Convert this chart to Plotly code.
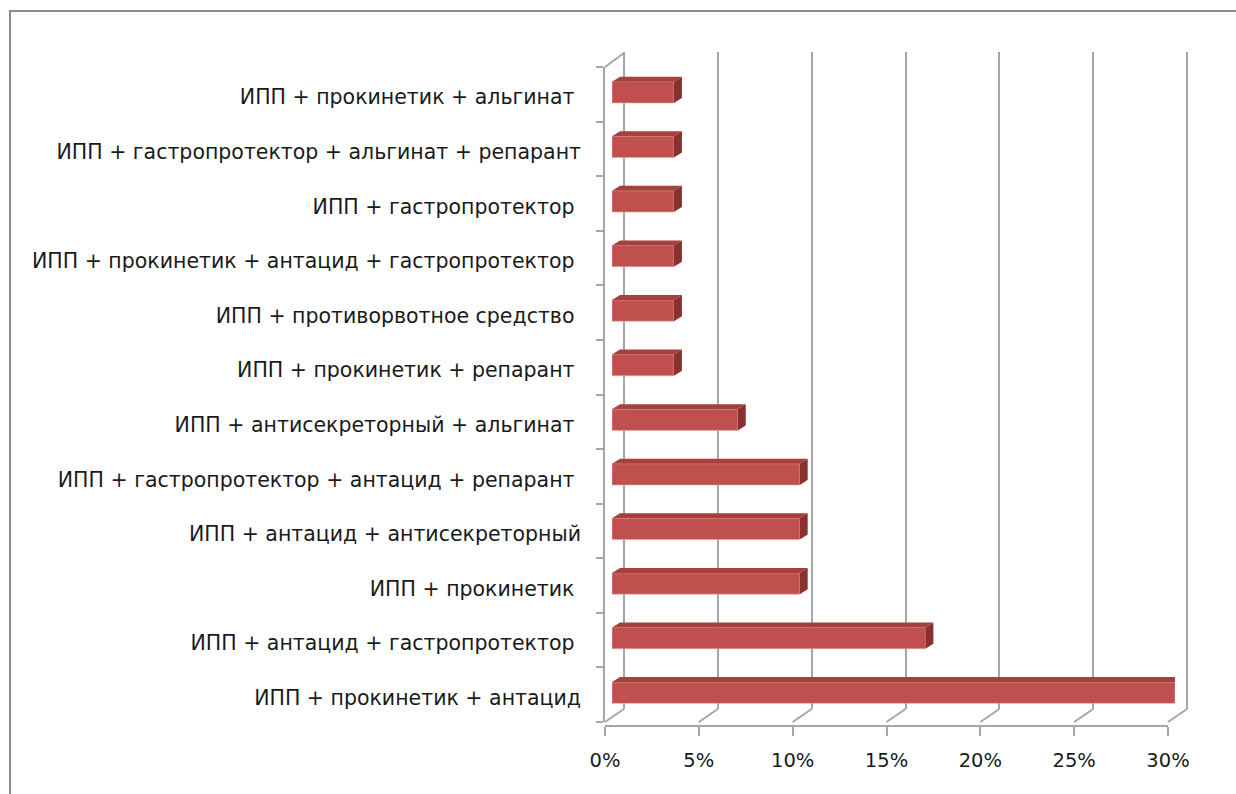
import plotly.graph_objects as go

# Treatment combinations, listed bottom to top
categories = [
    "ИПП + прокинетик + антацид",
    "ИПП + антацид + гастропротектор\u00a0",
    "ИПП + прокинетик\u00a0",
    "ИПП + антацид + антисекреторный",
    "ИПП + гастропротектор + антацид + репарант\u00a0",
    "ИПП + антисекреторный + альгинат\u00a0",
    "ИПП + прокинетик + репарант\u00a0",
    "ИПП + противорвотное средство\u00a0",
    "ИПП + прокинетик + антацид + гастропротектор\u00a0",
    "ИПП + гастропротектор\u00a0",
    "ИПП + гастропротектор + альгинат + репарант",
    "ИПП + прокинетик + альгинат\u00a0",
]
shares = [30.0, 16.7, 10.0, 10.0, 10.0, 6.7, 3.3, 3.3, 3.3, 3.3, 3.3, 3.3]
x_ticks = [0, 5, 10, 15, 20, 25, 30]
x_tick_text = ["0%", "5%", "10%", "15%", "20%", "25%", "30%"]

W, H = 1236, 794
X_MAX = 30.0
N = len(categories)


def px(x):
    return x / W


def py(y):
    return 1 - y / H


# Pixel geometry of the pseudo-3D box
FRONT_L, FRONT_R, FRONT_B, FRONT_T = 605, 1168, 722, 67
BACK_L, BACK_R, BACK_B, BACK_T = 624, 1187, 709, 52
BAR_L, BAR_B, BAR_T = 612, 720, 65
scale = (FRONT_R - FRONT_L) / X_MAX          # px per percent
cat_px = (BAR_B - BAR_T) / N                 # px per category
PAD = 0.4                                    # range padding so edge gridlines render

bar_w = 0.39
depth_dx = 8 / scale                         # bar depth, x in data units
depth_dy = 5 / cat_px                        # bar depth, y in data units

GRID = "#a6a6a6"
TXT = "#1a1a1a"
FONT = "DejaVu Sans"
FSIZE = 20.5
XFSIZE = 19.5
BAR = "#c0504d"
TOP = "#a5403d"
SIDE = "#8a302e"

idx = list(range(N))
fig = go.Figure()

# back wall (gridlines) subplot
fig.add_trace(go.Scatter(x=[0], y=[0], xaxis="x", yaxis="y", mode="markers",
                         marker=dict(opacity=0), hoverinfo="skip", showlegend=False))

# bars
fig.add_trace(go.Bar(x=shares, y=idx, orientation="h", width=bar_w,
                     xaxis="x2", yaxis="y2",
                     marker=dict(color=BAR, line=dict(color="#e7a9a7", width=0.6)),
                     showlegend=False, hoverinfo="x+y"))

top_x, top_y, side_x, side_y = [], [], [], []
for i, v in enumerate(shares):
    yt = i + bar_w / 2
    yb = i - bar_w / 2
    top_x += [0, v, v + depth_dx, depth_dx, 0, None]
    top_y += [yt, yt, yt + depth_dy, yt + depth_dy, yt, None]
    side_x += [v, v + depth_dx, v + depth_dx, v, v, None]
    side_y += [yb, yb + depth_dy, yt + depth_dy, yt, yb, None]

fig.add_trace(go.Scatter(x=top_x, y=top_y, xaxis="x2", yaxis="y2", mode="lines",
                         fill="toself", fillcolor=TOP, line=dict(width=0),
                         hoverinfo="skip", showlegend=False))
fig.add_trace(go.Scatter(x=side_x, y=side_y, xaxis="x2", yaxis="y2", mode="lines",
                         fill="toself", fillcolor=SIDE, line=dict(width=0),
                         hoverinfo="skip", showlegend=False))

# category labels subplot
fig.add_trace(go.Scatter(x=[0], y=[0], xaxis="x3", yaxis="y3", mode="markers",
                         marker=dict(opacity=0), hoverinfo="skip", showlegend=False))
# front axis lines subplot
fig.add_trace(go.Scatter(x=[0], y=[0], xaxis="x4", yaxis="y4", mode="markers",
                         marker=dict(opacity=0), hoverinfo="skip", showlegend=False))

shapes = []
# floor depth lines
for v in x_ticks:
    shapes.append(dict(type="line", xref="paper", yref="paper",
                       x0=px(FRONT_L + v * scale), y0=py(FRONT_B),
                       x1=px(BACK_L + v * scale), y1=py(BACK_B),
                       line=dict(color=GRID, width=2), layer="below"))
# left wall top edge
shapes.append(dict(type="line", xref="paper", yref="paper",
                   x0=px(FRONT_L), y0=py(FRONT_T), x1=px(BACK_L), y1=py(BACK_T + 1),
                   line=dict(color=GRID, width=2), layer="below"))
# chart frame
shapes.append(dict(type="rect", xref="paper", yref="paper",
                   x0=px(10), y0=py(11), x1=px(1260), y1=py(820),
                   line=dict(color="#8c8c8c", width=2), fillcolor="rgba(0,0,0,0)",
                   layer="below"))

fig.update_layout(
    template="none",
    width=W, height=H, autosize=False,
    margin=dict(l=0, r=0, t=0, b=0, pad=0),
    paper_bgcolor="white", plot_bgcolor="rgba(0,0,0,0)",
    showlegend=False,
    shapes=shapes,
    font=dict(family=FONT, size=FSIZE, color=TXT),
    xaxis=dict(domain=[px(BACK_L - PAD * scale), px(BACK_R + PAD * scale)],
               range=[-PAD, X_MAX + PAD],
               tickvals=x_ticks, showticklabels=False, ticks="",
               showgrid=True, gridcolor=GRID, gridwidth=2,
               zeroline=False, showline=False, anchor="y", fixedrange=True,
               automargin=False),
    yaxis=dict(domain=[py(BACK_B), py(BACK_T)], range=[0, 1],
               showgrid=False, zeroline=False, showline=False,
               showticklabels=False, ticks="", anchor="x", fixedrange=True,
               automargin=False),
    xaxis2=dict(domain=[px(BAR_L), px(BAR_L + X_MAX * scale)], range=[0, X_MAX],
                showgrid=False, zeroline=False, showline=False,
                showticklabels=False, ticks="", anchor="y2", fixedrange=True,
                automargin=False),
    yaxis2=dict(domain=[py(BAR_B), py(BAR_T)], range=[-0.5, N - 0.5],
                showgrid=False, zeroline=False, showline=False, ticks="",
                showticklabels=False, anchor="x2", fixedrange=True, automargin=False),
    xaxis3=dict(domain=[px(FRONT_L), px(FRONT_R)], range=[0, X_MAX],
                tickvals=x_ticks, ticktext=x_tick_text,
                ticks="outside", ticklen=9, tickwidth=2, tickcolor=GRID,
                showline=True, linecolor=GRID, linewidth=2,
                showgrid=False, zeroline=False,
                tickfont=dict(family=FONT, size=XFSIZE, color=TXT),
                ticklabelstandoff=8,
                anchor="y3", fixedrange=True, automargin=False),
    yaxis3=dict(domain=[py(FRONT_B + 3), py(FRONT_T + 3)], range=[-0.5, N - 0.5],
                tickvals=idx, ticktext=categories, ticks="",
                tickfont=dict(family=FONT, size=FSIZE, color=TXT),
                ticklabelstandoff=23,
                showline=False, showgrid=False, zeroline=False,
                anchor="x3", fixedrange=True, automargin=False),
    # plain front axis line with boundary ticks
    yaxis4=dict(domain=[py(FRONT_B), py(FRONT_T)], range=[-0.5, N - 0.5],
                tickvals=[i - 0.5 for i in range(N + 1)], showticklabels=False,
                ticks="outside", ticklen=7, tickwidth=2, tickcolor=GRID,
                showline=True, linecolor=GRID, linewidth=2,
                showgrid=False, zeroline=False, anchor="x4", fixedrange=True,
                automargin=False),
    xaxis4=dict(domain=[px(FRONT_L), px(FRONT_R)], range=[0, X_MAX],
                showticklabels=False, ticks="", showline=False, showgrid=False,
                zeroline=False, anchor="y4", fixedrange=True, automargin=False),
)

fig.write_html("out.html")
